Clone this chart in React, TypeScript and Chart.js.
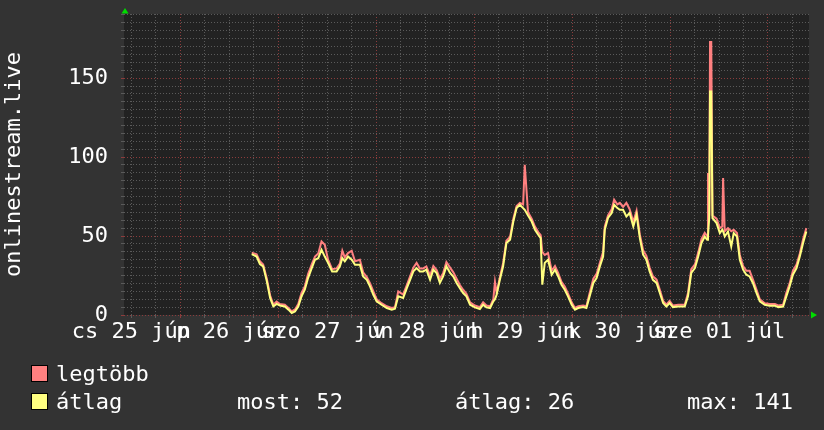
import React, { useEffect, useRef } from 'react';
import { Chart, registerables } from 'chart.js';

Chart.register(...registerables);

const FONT = '"DejaVu Sans Mono", monospace';

// time of each sample, in hours since 25 Jun 00:00
const hours = [
  41.5, 42.7, 43.5, 44.3, 45.2, 46.0, 46.8, 47.6, 48.4, 49.6,
  50.5, 51.3, 52.1, 52.9, 53.7, 54.5, 55.3, 56.2, 57.0, 57.8,
  58.6, 59.4, 60.2, 61.2, 62.3, 63.1, 63.7, 64.3, 65.1, 66.0,
  66.8, 68.0, 68.8, 69.7, 70.5, 71.3, 72.1, 73.3, 74.6, 75.8,
  76.6, 77.4, 78.6, 79.5, 80.3, 81.1, 81.9, 82.7, 83.5, 84.3,
  85.2, 86.0, 86.8, 87.6, 88.4, 89.2, 90.1, 90.9, 91.7, 92.5,
  93.3, 94.1, 95.0, 96.2, 97.4, 98.2, 99.0, 99.9, 100.7, 101.1,
  101.5, 102.3, 103.1, 103.9, 104.8, 105.6, 106.4, 107.2, 108.0, 108.4,
  109.2, 110.1, 110.9, 111.7, 112.3, 112.7, 113.3, 114.1, 115.0, 115.8,
  116.6, 117.4, 118.2, 119.0, 119.9, 120.7, 121.5, 122.7, 123.5, 124.3,
  125.2, 126.0, 126.8, 127.6, 128.0, 128.8, 129.7, 130.3, 131.1, 131.7,
  132.5, 133.3, 134.1, 135.0, 135.8, 136.6, 137.4, 138.2, 139.0, 139.8,
  140.7, 141.5, 142.3, 143.1, 143.9, 144.7, 146.0, 147.6, 148.4, 149.2,
  150.1, 150.9, 151.7, 152.5, 153.1, 153.3, 153.6, 153.8, 154.1, 154.4,
  155.4, 156.2, 156.8, 157.0, 157.4, 158.2, 159.0, 159.6, 160.4, 161.1,
  161.9, 162.7, 163.5, 164.3, 165.2, 166.0, 167.2, 168.4, 169.7, 170.5,
  171.7, 172.5, 173.3, 174.1, 175.0, 175.8, 176.6, 177.4,
];

// "átlag" (average)
const avgValues = [
  38.6, 37, 32.3, 30.8, 21.3, 10.8, 5.4, 7, 6, 5.4,
  3.4, 1.3, 2.3, 5.4, 11.8, 16, 23.4, 29.7, 35, 36,
  41.3, 37, 33, 27.6, 27.6, 30.8, 36, 34, 37, 35,
  31.8, 31.8, 24.4, 22.3, 18, 12.8, 8.6, 6.5, 4.4, 3.4,
  4, 11.8, 10.8, 17, 22.3, 27.6, 29.7, 27.6, 27.6, 28.7,
  22.3, 28.7, 26.6, 20.3, 24.4, 30.8, 26.6, 24.4, 20.3, 17,
  13.9, 11.8, 6.5, 4.8, 3.8, 6.5, 4.8, 4.4, 8.6, 10,
  12.8, 22.3, 30.8, 45.6, 47.7, 59.2, 67.7, 69.8, 67.7, 66.6,
  63, 59.2, 54, 50.8, 48.7, 19.2, 33, 35, 25.5, 28.7,
  24.4, 19.2, 16, 11.8, 6.5, 3.4, 4.4, 5, 4.4, 11.8,
  20.3, 23.4, 30.8, 37, 54, 61.4, 64.6, 69.8, 67.7, 66.6,
  66.6, 62.4, 64.6, 56, 63.5, 48.7, 38.2, 35, 27.6, 22.3,
  20.3, 13.9, 7.6, 5.4, 7.6, 5, 5.4, 5.4, 11.8, 26.6,
  29.7, 37, 45.6, 49.7, 47.7, 50, 61.4, 141.5, 141.5, 61.4,
  58.2, 51.9, 54, 53, 49.7, 52.9, 43.4, 51.9, 49.7, 35,
  28.7, 25.5, 24.4, 20.3, 13.9, 8.6, 6.5, 5.9, 5.9, 5,
  5.4, 11.8, 18, 25.5, 29.7, 37, 45.6, 52.9,
];

// "legtöbb" (maximum)
const maxValues = [
  39.5, 38.5, 34, 32, 23, 12.5, 6.5, 8.5, 7, 6.5,
  4.5, 2.3, 3.5, 7, 14, 18, 26, 32, 37, 39,
  46.6, 44.5, 35, 29, 29.5, 32.5, 40.7, 36.5, 39.2, 40.7,
  34, 35, 27, 24, 20, 15, 10, 7.5, 5.5, 4.5,
  5, 15, 13, 19, 24.5, 30, 33, 29.5, 29.5, 30.8,
  25, 31, 28.5, 23, 26.5, 33.5, 30, 27, 23, 19,
  16, 13.5, 8, 6, 5, 8, 6, 5.5, 10, 21,
  14, 24, 33, 47, 49.5, 61, 69, 71, 70, 95.1,
  65, 61, 56, 52.5, 50.5, 40, 38, 39.2, 28, 31,
  26.5, 21, 18, 13.5, 8, 4.5, 5.5, 6, 5.5, 14,
  23, 26, 33, 40, 56, 63, 67, 73, 70, 71,
  68.5, 71, 67, 59, 66, 51, 41, 37.5, 30, 24.5,
  22.5, 16, 9, 6.5, 9, 6, 6.5, 6.5, 14, 29,
  32, 39.5, 48, 52, 50, 89.9, 63, 172.8, 172.8, 63,
  61, 55, 56, 86.7, 53, 55, 53, 54, 52, 38,
  31, 28, 28, 22.5, 16, 10, 7.5, 7, 7, 6,
  6.5, 14, 20, 28, 32, 39, 48, 55,
];

const dayNames = ['cs', 'p', 'szo', 'v', 'h', 'k', 'sze'];
const dayNumbers = ['25', '26', '27', '28', '29', '30', '01'];
const monthNames = ['jún', 'jún', 'jún', 'jún', 'jún', 'jún', 'júl'];

const seriesNames = ['legtöbb', 'átlag'];
const statTexts = ['most: 52', 'átlag: 26', 'max: 141'];
const yTitle = 'onlinestream.live';

const X_MIN = 10.2;
const X_MAX = 178.05;
const Y_MIN = 0;
const Y_MAX = 190.6;
const X_STEP = 6;
const Y_STEP = 5;

const MAX_COLOR = '#ff8080';
const AVG_COLOR = '#ffff80';
const MINOR_GRID = '#5a5a5a';
const MAJOR_GRID = '#8c3c3c';

const buildTicks = (from: number, to: number, step: number) => {
  const out: number[] = [];
  for (let v = from; v <= to + 1e-9; v += step) out.push(v);
  return out;
};

const xTicks = buildTicks(12, X_MAX, X_STEP);
const yTicks = buildTicks(0, Y_MAX, Y_STEP);

const plotBackground = {
  id: 'plotBackground',
  beforeDraw(chart: any) {
    const { ctx, chartArea } = chart;
    ctx.save();
    ctx.fillStyle = '#222222';
    ctx.fillRect(chartArea.left, chartArea.top, chartArea.right - chartArea.left, chartArea.bottom - chartArea.top);
    ctx.restore();
  },
};

const axisArrows = {
  id: 'axisArrows',
  afterDraw(chart: any) {
    const { ctx, chartArea } = chart;
    const { left, top, right, bottom } = chartArea;
    ctx.save();
    ctx.fillStyle = '#00dd00';
    ctx.beginPath();
    ctx.moveTo(left + 1, top - 6);
    ctx.lineTo(left + 4.5, top - 0.5);
    ctx.lineTo(left - 2.5, top - 0.5);
    ctx.closePath();
    ctx.fill();
    ctx.beginPath();
    ctx.moveTo(right + 8, bottom);
    ctx.lineTo(right + 2, bottom - 3.5);
    ctx.lineTo(right + 2, bottom + 3.5);
    ctx.closePath();
    ctx.fill();
    ctx.restore();
  },
};

function ChartCanvas() {
  const ref = useRef<HTMLCanvasElement | null>(null);

  useEffect(() => {
    if (!ref.current) return;
    const chart = new Chart(ref.current, {
      type: 'line',
      data: {
        datasets: [
          {
            label: seriesNames[1],
            data: hours.map((h, i) => ({ x: h, y: avgValues[i] })),
            borderColor: AVG_COLOR,
            backgroundColor: AVG_COLOR,
            borderWidth: 2,
            pointRadius: 0,
            tension: 0,
          },
          {
            label: seriesNames[0],
            data: hours.map((h, i) => ({ x: h, y: maxValues[i] })),
            borderColor: MAX_COLOR,
            backgroundColor: MAX_COLOR,
            borderWidth: 2,
            pointRadius: 0,
            tension: 0,
          },
        ],
      },
      options: {
        animation: false,
        responsive: false,
        devicePixelRatio: 1,
        layout: { padding: { left: 0, top: 14, right: 15, bottom: 0 } },
        plugins: { legend: { display: false }, tooltip: { enabled: false } },
        scales: {
          x: {
            type: 'linear',
            min: X_MIN,
            max: X_MAX,
            afterBuildTicks: (s: any) => {
              s.ticks = xTicks.map((v) => ({ value: v }));
            },
            afterFit: (s: any) => {
              s.height = 115;
              s.paddingLeft = 0;
              s.paddingRight = 0;
            },
            grid: {
              color: (c: any) => (c.tick && c.tick.value % 24 === 0 ? MAJOR_GRID : MINOR_GRID),
              tickColor: (c: any) => (c.tick && c.tick.value % 24 === 0 ? MAJOR_GRID : MINOR_GRID),
              lineWidth: 1,
              drawTicks: true,
              tickLength: 3,
              tickBorderDash: [],
            },
            border: { display: false, dash: [1, 2] },
            ticks: {
              autoSkip: false,
              maxRotation: 0,
              minRotation: 0,
              padding: 1,
              color: '#ffffff',
              font: { family: FONT, size: 22 },
              callback: (v: any) => {
                const n = Number(v);
                if (n % 24 !== 12) return '';
                const i = Math.round((n - 12) / 24);
                return `${dayNames[i]} ${dayNumbers[i]} ${monthNames[i]}`;
              },
            },
          },
          y: {
            type: 'linear',
            min: Y_MIN,
            max: Y_MAX,
            afterBuildTicks: (s: any) => {
              s.ticks = yTicks.map((v) => ({ value: v }));
            },
            afterFit: (s: any) => {
              s.width = 124;
              s.paddingTop = 0;
              s.paddingBottom = 0;
            },
            grid: {
              color: (c: any) => (c.tick && c.tick.value % 50 === 0 ? MAJOR_GRID : MINOR_GRID),
              tickColor: (c: any) => (c.tick && c.tick.value % 50 === 0 ? MAJOR_GRID : MINOR_GRID),
              lineWidth: 1,
              drawTicks: true,
              tickLength: 3,
              tickBorderDash: [],
            },
            border: { display: false, dash: [1, 2] },
            title: {
              display: true,
              text: yTitle,
              color: '#ffffff',
              font: { family: FONT, size: 22 },
              padding: { top: 1, bottom: 0 },
            },
            ticks: {
              autoSkip: false,
              padding: 13,
              color: '#ffffff',
              font: { family: FONT, size: 22 },
              callback: (v: any) => (Number(v) % 50 === 0 ? String(v) : ''),
            },
          },
        },
      },
      plugins: [plotBackground, axisArrows],
    } as any);
    return () => chart.destroy();
  }, []);

  return <canvas ref={ref} width={824} height={430} style={{ display: 'block', width: 824, height: 430 }} />;
}

const textStyle: React.CSSProperties = {
  position: 'absolute',
  fontFamily: FONT,
  fontSize: 22,
  lineHeight: '17px',
  height: 17,
  color: '#ffffff',
  whiteSpace: 'pre',
};

const boxStyle = (color: string, top: number): React.CSSProperties => ({
  position: 'absolute',
  left: 31,
  top,
  width: 15,
  height: 15,
  background: color,
  border: '1px solid #000000',
});

export default function App() {
  return (
    <div
      style={{
        position: 'fixed',
        left: 0,
        top: 0,
        width: 824,
        height: 430,
        background: '#333333',
        overflow: 'hidden',
      }}
    >
      <ChartCanvas />
      <div style={boxStyle(MAX_COLOR, 365)} />
      <div style={{ ...textStyle, left: 56, top: 365 }}>{seriesNames[0]}</div>
      <div style={boxStyle(AVG_COLOR, 393)} />
      <div style={{ ...textStyle, left: 56, top: 393 }}>{seriesNames[1]}</div>
      <div style={{ ...textStyle, left: 237, top: 393 }}>{statTexts[0]}</div>
      <div style={{ ...textStyle, left: 455, top: 393 }}>{statTexts[1]}</div>
      <div style={{ ...textStyle, left: 687, top: 393 }}>{statTexts[2]}</div>
    </div>
  );
}
